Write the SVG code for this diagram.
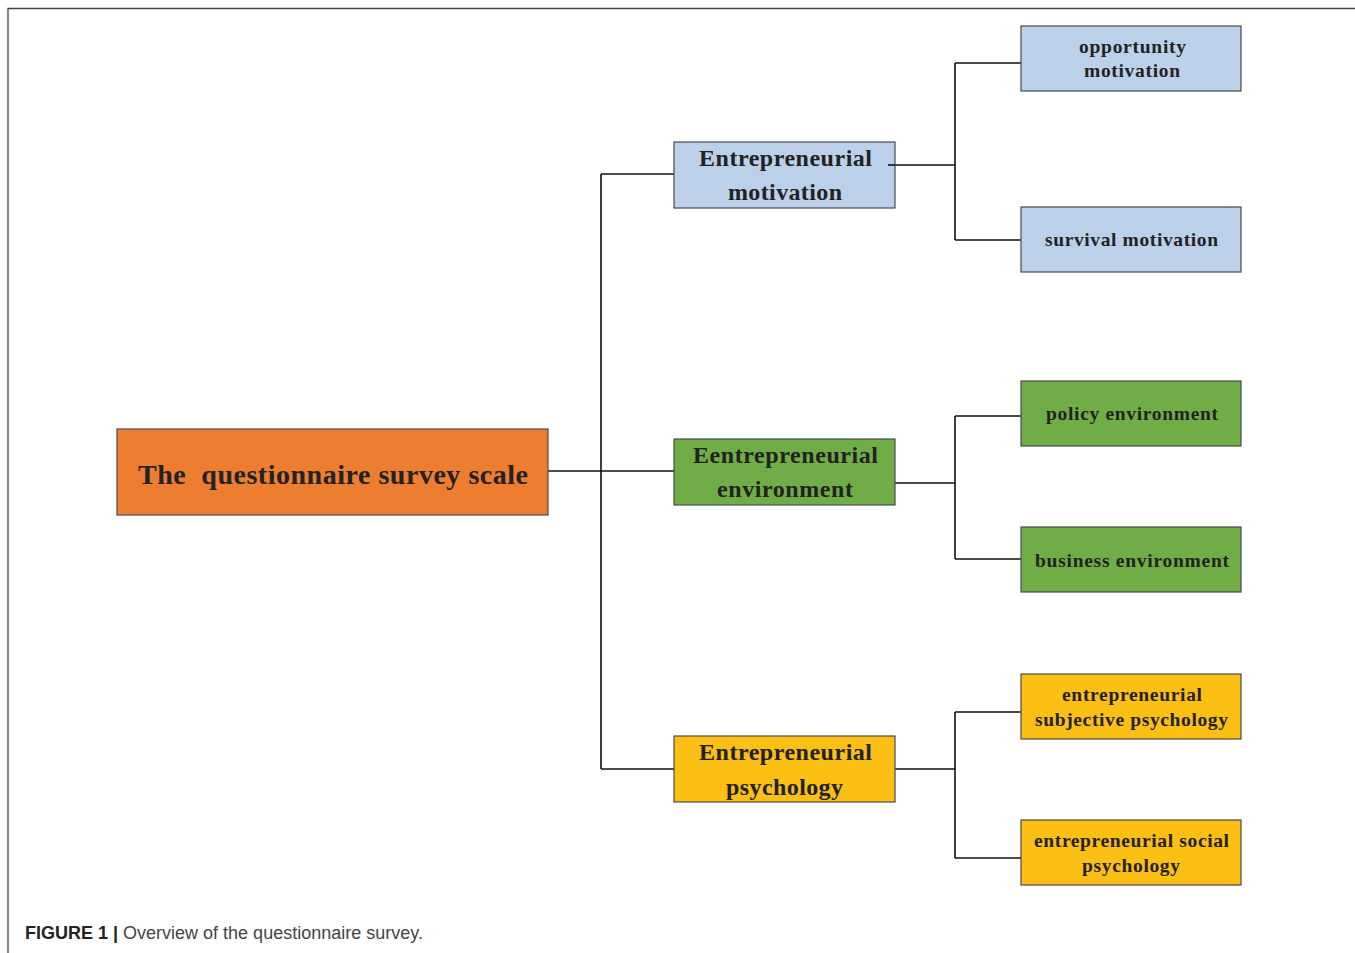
<svg xmlns="http://www.w3.org/2000/svg" width="1355" height="953" viewBox="0 0 1355 953">
<style>
.box{stroke:#4a4a4a;stroke-width:1.2}
.blue{fill:#BDD0E9}.green{fill:#70AD47}.yellow{fill:#FCBF14}.orange{fill:#ED7D31}
text{font-family:"Liberation Serif","Times New Roman",serif;font-weight:bold;fill:#222;text-anchor:middle}
.t1{font-size:28px}.t2{font-size:24px}.t3{font-size:19.5px}
.conn{stroke:#111;stroke-width:1.6;fill:none}
.cap{font-family:"Liberation Sans",Arial,sans-serif;font-size:18px;text-anchor:start;font-weight:normal;fill:#444}
</style>
<rect x="0" y="0" width="1355" height="953" fill="#fff"/>
<path d="M8 953 V8.5 H1355" fill="none" stroke="#444" stroke-width="1.3"/>
<g id="connectors">
<path class="conn" d="M548 471 H674 M601 174 V769 M601 174 H674 M601 769 H674"/>
<path class="conn" d="M888 165 H955 M955 63 V240 M955 63 H1021 M955 240 H1021"/>
<path class="conn" d="M895 483 H955 M955 416 V559 M955 416 H1021 M955 559 H1021"/>
<path class="conn" d="M895 769 H955 M955 712 V858 M955 712 H1021 M955 858 H1021"/>
</g>
<g id="root"><rect class="box orange" x="117" y="429" width="431" height="86"/><text class="t1" x="333" y="484" textLength="390" lengthAdjust="spacing" xml:space="preserve">The  questionnaire survey scale</text></g>
<g id="motivation"><rect class="box blue" x="674" y="142" width="221" height="66"/><text class="t2" x="785.5" y="166" textLength="173" lengthAdjust="spacing">Entrepreneurial</text><text class="t2" x="785" y="200" textLength="114" lengthAdjust="spacing">motivation</text></g>
<g id="motivation-line-over"><path class="conn" d="M888 165 H895"/></g>
<g id="environment"><rect class="box green" x="674" y="439" width="221" height="66"/><text class="t2" x="785.5" y="463" textLength="185" lengthAdjust="spacing">Eentrepreneurial</text><text class="t2" x="785" y="497" textLength="136" lengthAdjust="spacing">environment</text></g>
<g id="psychology"><rect class="box yellow" x="674" y="736" width="221" height="66"/><text class="t2" x="785.5" y="760" textLength="173" lengthAdjust="spacing">Entrepreneurial</text><text class="t2" x="784.5" y="795" textLength="117" lengthAdjust="spacing">psychology</text></g>
<g id="opportunity"><rect class="box blue" x="1021" y="26" width="220" height="65"/><text class="t3" x="1132.5" y="53" textLength="107" lengthAdjust="spacing">opportunity</text><text class="t3" x="1132" y="77" textLength="96" lengthAdjust="spacing">motivation</text></g>
<g id="survival"><rect class="box blue" x="1021" y="207" width="220" height="65"/><text class="t3" x="1131.5" y="246" textLength="173" lengthAdjust="spacing">survival motivation</text></g>
<g id="policy"><rect class="box green" x="1021" y="381" width="220" height="65"/><text class="t3" x="1132" y="420" textLength="172" lengthAdjust="spacing">policy environment</text></g>
<g id="business"><rect class="box green" x="1021" y="527" width="220" height="65"/><text class="t3" x="1132" y="567" textLength="194" lengthAdjust="spacing">business environment</text></g>
<g id="subjective"><rect class="box yellow" x="1021" y="674" width="220" height="65"/><text class="t3" x="1132" y="701" textLength="140" lengthAdjust="spacing">entrepreneurial</text><text class="t3" x="1131.5" y="726" textLength="193" lengthAdjust="spacing">subjective psychology</text></g>
<g id="social"><rect class="box yellow" x="1021" y="820" width="220" height="65"/><text class="t3" x="1131.5" y="847" textLength="195" lengthAdjust="spacing">entrepreneurial social</text><text class="t3" x="1131" y="872" textLength="98" lengthAdjust="spacing">psychology</text></g>
<text class="cap" x="25" y="939"><tspan font-weight="bold" fill="#222">FIGURE 1 |</tspan> Overview of the questionnaire survey.</text>
</svg>
